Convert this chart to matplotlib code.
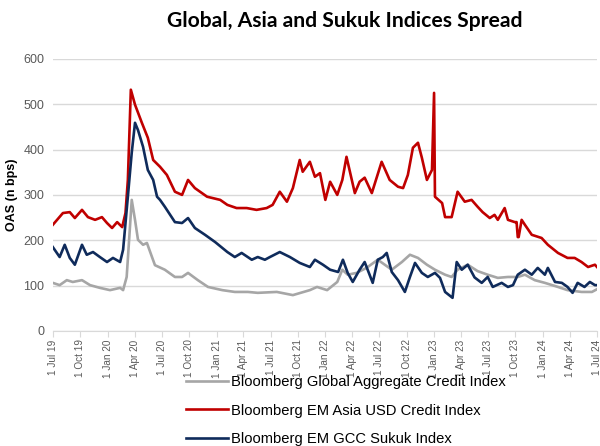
import matplotlib
matplotlib.use('Agg')
import matplotlib.pyplot as plt
import pandas as pd

# Bloomberg Global Aggregate Credit Index (OAS, bps)
glob_dates = ['2019-07-01', '2019-07-24', '2019-08-17', '2019-09-06', '2019-10-07', '2019-11-03',
              '2019-12-06', '2020-01-09', '2020-02-12', '2020-02-22', '2020-03-05', '2020-03-22',
              '2020-04-02', '2020-04-12', '2020-04-29', '2020-05-12', '2020-05-29', '2020-06-08',
              '2020-07-11', '2020-08-14', '2020-09-07', '2020-09-27', '2020-10-30', '2020-12-03',
              '2021-01-20', '2021-03-03', '2021-04-16', '2021-05-19', '2021-07-22', '2021-09-14',
              '2021-11-10', '2021-12-04', '2022-01-07', '2022-02-10', '2022-02-27', '2022-03-17',
              '2022-04-16', '2022-05-19', '2022-06-26', '2022-08-12', '2022-09-15', '2022-10-12',
              '2022-11-08', '2022-12-08', '2023-01-04', '2023-02-07', '2023-03-01', '2023-03-21',
              '2023-04-24', '2023-05-27', '2023-06-30', '2023-08-03', '2023-09-06', '2023-10-09',
              '2023-11-02', '2023-12-05', '2024-01-08', '2024-02-21', '2024-03-24', '2024-05-10',
              '2024-06-14', '2024-07-01']
glob_vals = [106, 101, 112, 108, 112, 101,
             95, 90, 95, 90, 119, 289,
             245, 201, 190, 194, 163, 145,
             135, 119, 119, 128, 112, 97,
             90, 86, 86, 84, 86, 79,
             90, 97, 90, 108, 135, 124,
             128, 139, 157, 135, 152, 168,
             161, 146, 135, 124, 119, 135,
             146, 132, 124, 117, 119, 119,
             124, 112, 106, 97, 90, 86,
             86, 92]

# Bloomberg EM Asia USD Credit Index
asia_dates = ['2019-07-01', '2019-08-04', '2019-08-27', '2019-09-13', '2019-10-07', '2019-10-27',
              '2019-11-20', '2019-12-13', '2019-12-30', '2020-01-16', '2020-02-02', '2020-02-19',
              '2020-03-01', '2020-03-09', '2020-03-19', '2020-04-02', '2020-04-25', '2020-05-15',
              '2020-06-02', '2020-06-25', '2020-07-18', '2020-08-14', '2020-09-07', '2020-09-27',
              '2020-10-20', '2020-11-30', '2021-01-13', '2021-02-06', '2021-03-09', '2021-04-12',
              '2021-05-15', '2021-06-18', '2021-07-08', '2021-08-01', '2021-08-25', '2021-09-14',
              '2021-10-07', '2021-10-17', '2021-11-10', '2021-11-27', '2021-12-14', '2022-01-01',
              '2022-01-17', '2022-02-10', '2022-02-27', '2022-03-13', '2022-04-10', '2022-04-26',
              '2022-05-13', '2022-06-06', '2022-07-09', '2022-08-05', '2022-09-02', '2022-09-19',
              '2022-10-05', '2022-10-22', '2022-11-08', '2022-11-21', '2022-12-08', '2022-12-25',
              '2023-01-01', '2023-01-04', '2023-01-28', '2023-02-07', '2023-03-01', '2023-03-21',
              '2023-04-14', '2023-05-07', '2023-05-27', '2023-06-13', '2023-07-07', '2023-07-23',
              '2023-08-03', '2023-08-26', '2023-09-06', '2023-09-29', '2023-10-05', '2023-10-09',
              '2023-10-12', '2023-10-22', '2023-11-02', '2023-11-25', '2023-12-28', '2024-01-18',
              '2024-02-21', '2024-03-24', '2024-04-17', '2024-05-10', '2024-06-01', '2024-06-24',
              '2024-07-01']
asia_vals = [234, 260, 262, 249, 267, 251,
             245, 251, 238, 227, 240, 229,
             260, 333, 532, 499, 459, 426,
             377, 362, 344, 307, 300, 333,
             315, 296, 289, 278, 271, 271,
             267, 271, 278, 307, 285, 315,
             377, 351, 373, 340, 348, 289,
             329, 300, 333, 384, 304, 329,
             338, 304, 373, 333, 318, 315,
             344, 404, 415, 382, 333, 355,
             525, 296, 282, 251, 251, 307,
             285, 289, 274, 262, 249, 256,
             245, 271, 245, 240, 240, 207,
             207, 245, 234, 212, 205, 190,
             172, 161, 161, 152, 141, 146,
             141]

# Bloomberg EM GCC Sukuk Index
gcc_dates = ['2019-07-01', '2019-07-24', '2019-08-10', '2019-08-27', '2019-09-13', '2019-10-07',
             '2019-10-23', '2019-11-13', '2019-12-06', '2019-12-30', '2020-01-19', '2020-02-12',
             '2020-02-22', '2020-03-09', '2020-03-22', '2020-04-02', '2020-04-12', '2020-04-29',
             '2020-05-15', '2020-06-02', '2020-06-15', '2020-06-25', '2020-07-11', '2020-08-14',
             '2020-09-07', '2020-09-27', '2020-10-20', '2020-11-23', '2020-12-27', '2021-02-06',
             '2021-03-03', '2021-03-26', '2021-04-29', '2021-05-19', '2021-06-12', '2021-06-29',
             '2021-08-01', '2021-09-04', '2021-10-07', '2021-11-10', '2021-11-27', '2021-12-24',
             '2022-01-17', '2022-02-13', '2022-03-01', '2022-03-17', '2022-04-03', '2022-04-26',
             '2022-05-13', '2022-06-09', '2022-06-26', '2022-07-13', '2022-07-26', '2022-08-12',
             '2022-09-02', '2022-09-25', '2022-10-12', '2022-10-29', '2022-11-21', '2022-12-11',
             '2023-01-04', '2023-01-21', '2023-02-07', '2023-03-04', '2023-03-18', '2023-04-04',
             '2023-04-24', '2023-05-17', '2023-06-10', '2023-06-30', '2023-07-17', '2023-08-16',
             '2023-09-06', '2023-09-23', '2023-10-09', '2023-11-02', '2023-11-25', '2023-12-15',
             '2024-01-08', '2024-01-18', '2024-02-11', '2024-03-05', '2024-03-24', '2024-04-10',
             '2024-04-27', '2024-05-20', '2024-06-07', '2024-06-24', '2024-07-01']
gcc_vals = [185, 163, 190, 161, 146, 190,
            168, 174, 163, 152, 161, 152,
            179, 296, 393, 459, 443, 406,
            355, 333, 296, 289, 274, 240,
            238, 249, 227, 212, 196, 174,
            163, 172, 157, 163, 157, 163,
            174, 163, 150, 141, 157, 146,
            135, 130, 157, 128, 108, 135,
            152, 106, 157, 163, 172, 130,
            112, 86, 119, 150, 128, 119,
            128, 117, 86, 73, 152, 135,
            146, 118, 106, 119, 97, 106,
            97, 101, 124, 135, 124, 139,
            124, 139, 108, 106, 97, 84,
            106, 97, 108, 101, 101]

labels = ['Bloomberg Global Aggregate Credit Index',
          'Bloomberg EM Asia USD Credit Index',
          'Bloomberg EM GCC Sukuk Index']
colors = ['#A6A6A6', '#C00000', '#0F2B5B']

plt.rcParams['font.family'] = ['Liberation Sans', 'DejaVu Sans']

fig = plt.figure(figsize=(6, 4.46), dpi=100)
ax = fig.add_axes([0.088, 0.258, 0.907, 0.61])

series = [(glob_dates, glob_vals), (asia_dates, asia_vals), (gcc_dates, gcc_vals)]
for (d, v), lab, c in zip(series, labels, colors):
    ax.plot(pd.to_datetime(d), v, color=c, lw=1.9, label=lab, solid_joinstyle='round')

ax.set_ylim(0, 600)
ax.set_yticks(range(0, 601, 100))
ax.set_xlim(pd.Timestamp('2019-07-01'), pd.Timestamp('2024-07-01'))
ticks = pd.date_range('2019-07-01', '2024-07-01', freq='QS-JAN')
ax.set_xticks(ticks)
ax.set_xticklabels([f"{t.day} {t:%b %y}" for t in ticks], rotation=90, fontsize=7.2, color='#595959')
ax.tick_params(axis='y', length=0, labelsize=9, labelcolor='#595959', pad=6)
ax.tick_params(axis='x', length=4, color='#D9D9D9', pad=2)
ax.grid(axis='y', color='#D9D9D9', lw=1)
ax.set_axisbelow(True)
for s in ['top', 'right', 'left']:
    ax.spines[s].set_visible(False)
ax.spines['bottom'].set_color('#D9D9D9')
ax.set_ylabel('OAS (n bps)', fontsize=9, fontweight='bold', labelpad=4)

fig.text(0.575, 0.952, 'Global, Asia and Sukuk Indices Spread', ha='center', va='center',
         fontsize=15.2, fontweight='bold', family=['Lato', 'DejaVu Sans'])

fig.legend(loc='upper left', bbox_to_anchor=(0.31, 0.159), frameon=False, fontsize=10.6,
           handlelength=2.85, handletextpad=0.2, labelspacing=0.98, borderpad=0, borderaxespad=0)

fig.savefig('out.png', dpi=100)
